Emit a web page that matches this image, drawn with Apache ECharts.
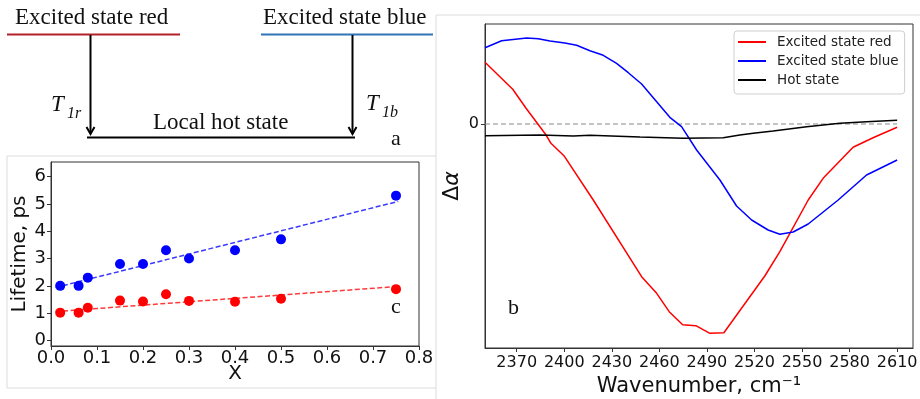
<!DOCTYPE html>
<html>
<head>
<meta charset="utf-8">
<script src="https://cdn.jsdelivr.net/npm/echarts@6/dist/echarts.min.js"></script>
<style>
  html, body { margin: 0; padding: 0; background: #fff; }
  #fig { width: 920px; height: 399px; }
</style>
</head>
<body>
<div id="fig"></div>
<script>
// ---- Panel c: lifetime versus composition X ----
const compX         = [0.02, 0.06, 0.08, 0.15, 0.2, 0.25, 0.3, 0.4, 0.5, 0.75];
const lifetimeBlue  = [2.0, 2.0, 2.3, 2.8, 2.8, 3.3, 3.0, 3.3, 3.7, 5.3];
const lifetimeRed   = [1.02, 1.02, 1.2, 1.46, 1.43, 1.69, 1.45, 1.42, 1.53, 1.88];
// linear fits (end points)
const fitX          = [0.01, 0.755];
const fitBlue       = [1.94, 5.09];
const fitRed        = [1.06, 1.98];
const lifetimeTicks = [0, 1, 2, 3, 4, 5, 6];

// ---- Panel b: difference spectra ----
const redWave  = [2350, 2367.5, 2375.9, 2383, 2388.5, 2391.6, 2399.8, 2418.3, 2448.8, 2458.3, 2466.2,
                  2474.7, 2483, 2491.9, 2500.7, 2526.5, 2536, 2553.9, 2563.3, 2582.2, 2594.8, 2610];
const redDelta = [0.617, 0.347, 0.157, 0.007, -0.11, -0.193, -0.317, -0.76, -1.527, -1.693, -1.877,
                  -2.007, -2.017, -2.093, -2.087, -1.52, -1.277, -0.76, -0.543, -0.233, -0.137, -0.033];

const blueWave  = [2350, 2360.5, 2376.3, 2383.6, 2391, 2400.4, 2407.8, 2416.2, 2424.6, 2433, 2440.4,
                   2448.8, 2458.3, 2466.6, 2474, 2483.5, 2498.2, 2508.7, 2518.2, 2528.6, 2536, 2544.4,
                   2553.9, 2572.8, 2590.7, 2610];
const blueDelta = [0.763, 0.833, 0.86, 0.853, 0.83, 0.81, 0.787, 0.733, 0.687, 0.607, 0.513,
                   0.40, 0.223, 0.067, -0.027, -0.26, -0.56, -0.82, -0.96, -1.06, -1.103, -1.08,
                   -1.0, -0.76, -0.51, -0.36];

const hotWave  = [2350, 2384.7, 2405.7, 2416.2, 2447.8, 2475.1, 2500.3, 2510.8, 2519.2, 2531.8,
                  2552.9, 2573.9, 2590.7, 2610];
const hotDelta = [-0.117, -0.11, -0.12, -0.113, -0.13, -0.143, -0.137, -0.11, -0.093, -0.07,
                  -0.027, 0.007, 0.023, 0.037];

const zeroWave  = [2350, 2610];
const zeroDelta = [0, 0];
const waveTicks = [2370, 2400, 2430, 2460, 2490, 2520, 2550, 2580, 2610];

const seriesNames = ['Excited state red', 'Excited state blue', 'Hot state'];

const pairs = (xs, ys) => xs.map((x, i) => [x, ys[i]]);

const SANS = 'DejaVu Sans';
const SERIF = '"Liberation Serif", "Times New Roman", serif';
const AX = '#333';

function axisBase() {
  return {
    axisLine: { show: true, onZero: false, lineStyle: { color: AX, width: 1 } },
    axisTick: { show: true, inside: false, length: 4, lineStyle: { color: AX, width: 1 } },
    splitLine: { show: false },
    nameLocation: 'middle',
    nameMoveOverlap: false
  };
}

// ---- Panel a: level diagram drawn as plain graphics ----
// y is the text baseline; canvas 'middle' sits about 0.3 em above it
const serifText = (text, x, baseline, size, italic) => ({
  type: 'text', silent: true,
  style: { text, x, y: baseline - 0.3 * size,
           font: (italic ? 'italic ' : '') + size + 'px ' + SERIF,
           fill: '#111', align: 'left', verticalAlign: 'middle' }
});
const seg = (x1, y1, x2, y2, color, w) => ({
  type: 'line', silent: true,
  shape: { x1, y1, x2, y2 },
  style: { stroke: color, lineWidth: w }
});
const arrowHead = (x, yTip) => ({
  type: 'polyline', silent: true,
  shape: { points: [[x - 4, yTip - 7], [x, yTip], [x + 4, yTip - 7]] },
  style: { stroke: '#000', lineWidth: 2, fill: null }
});

const graphics = [
  // frame lines between panels
  seg(436, 15, 920, 15, '#dcdcdc', 1),
  seg(436, 15, 436, 399, '#dcdcdc', 1),
  seg(7, 156, 436, 156, '#dcdcdc', 1),
  seg(7, 156, 7, 388, '#dcdcdc', 1),
  seg(7, 388, 436, 388, '#dcdcdc', 1),

  // energy levels
  seg(7, 34.5, 180, 34.5, '#b4202a', 2),
  seg(261, 34.5, 433, 34.5, '#2e75b6', 2),
  seg(87, 137.5, 355, 137.5, '#000', 2),
  serifText('Excited state red', 15, 25, 23),
  serifText('Excited state blue', 263, 25, 23),
  serifText('Local hot state', 153, 130, 23),

  // relaxation arrows
  seg(90.5, 35, 90.5, 134, '#000', 2),
  arrowHead(90.5, 134),
  seg(352.5, 35, 352.5, 134, '#000', 2),
  arrowHead(352.5, 134),

  serifText('T', 51, 112, 23, true),
  serifText('1r', 67, 119, 16, true),
  serifText('T', 366, 111, 23, true),
  serifText('1b', 382, 118, 16, true),

  // panel letters
  serifText('a', 391, 146, 22),
  serifText('b', 508, 315, 22),
  serifText('c', 391, 314, 22)
];

const option = {
  animation: false,
  backgroundColor: '#fff',
  textStyle: { fontFamily: SANS },
  grid: [
    { left: 51, top: 162, width: 368, height: 184, show: true, borderColor: AX, borderWidth: 1,
      containLabel: false, outerBoundsMode: 'none' },
    { left: 485, top: 24, width: 428, height: 324, show: true, borderColor: AX, borderWidth: 1,
      containLabel: false, outerBoundsMode: 'none' }
  ],
  xAxis: [
    Object.assign(axisBase(), {
      type: 'value', gridIndex: 0, min: 0, max: 0.8, interval: 0.1,
      axisLabel: { fontSize: 18, fontFamily: SANS, color: '#111', margin: 3,
                   formatter: v => v.toFixed(1) },
      name: 'X', nameGap: 18,
      nameTextStyle: { fontSize: 20, fontFamily: SANS, color: '#111' }
    }),
    Object.assign(axisBase(), {
      type: 'value', gridIndex: 1, min: 2350, max: 2620,
      axisLabel: { fontSize: 16, fontFamily: SANS, color: '#111', margin: 7,
                   customValues: waveTicks, formatter: v => String(v) },
      axisTick: { show: true, length: 4, lineStyle: { color: AX }, customValues: waveTicks },
      name: 'Wavenumber, cm\u207B\u00B9', nameGap: 28,
      nameTextStyle: { fontSize: 21, fontFamily: SANS, color: '#111' }
    })
  ],
  yAxis: [
    Object.assign(axisBase(), {
      type: 'value', gridIndex: 0, min: -0.2, max: 6.53,
      axisLabel: { fontSize: 18, fontFamily: SANS, color: '#111', margin: 5,
                   customValues: lifetimeTicks, formatter: v => String(v) },
      axisTick: { show: true, length: 4, lineStyle: { color: AX }, customValues: lifetimeTicks },
      name: 'Lifetime, ps', nameGap: 21,
      nameTextStyle: { fontSize: 20, fontFamily: SANS, color: '#111' }
    }),
    Object.assign(axisBase(), {
      type: 'value', gridIndex: 1, min: -2.24, max: 1.0,
      axisLabel: { fontSize: 16, fontFamily: SANS, color: '#111', margin: 6, customValues: [0],
                   formatter: v => String(v) },
      axisTick: { show: true, length: 4, lineStyle: { color: AX }, customValues: [0] },
      name: '\u0394{i|\u03B1}', nameGap: 22,
      nameTextStyle: { fontSize: 22, fontFamily: SANS, color: '#111',
                       rich: { i: { fontSize: 22, fontStyle: 'italic', fontFamily: SANS, color: '#111' } } }
    })
  ],
  legend: {
    data: seriesNames,
    orient: 'vertical',
    left: 734, top: 31,
    icon: 'rect', itemWidth: 28, itemHeight: 2, itemGap: 5,
    padding: [4, 6, 7, 4],
    backgroundColor: 'rgba(255,255,255,0.85)',
    borderColor: '#cfcfcf', borderWidth: 1, borderRadius: 3,
    textStyle: { fontSize: 13.5, fontFamily: SANS, color: '#222', lineHeight: 14, padding: [0, 0, 0, 6] },
    selectedMode: false
  },
  series: [
    // panel c
    { type: 'line', name: 'fit blue', xAxisIndex: 0, yAxisIndex: 0, data: pairs(fitX, fitBlue),
      symbol: 'none', lineStyle: { color: '#3a3aff', width: 1.5, type: [5, 2.5] }, z: 2 },
    { type: 'line', name: 'fit red', xAxisIndex: 0, yAxisIndex: 0, data: pairs(fitX, fitRed),
      symbol: 'none', lineStyle: { color: '#ff3a3a', width: 1.5, type: [5, 2.5] }, z: 2 },
    { type: 'scatter', name: 'T1b', xAxisIndex: 0, yAxisIndex: 0, data: pairs(compX, lifetimeBlue),
      symbolSize: 10, itemStyle: { color: '#0000ff', opacity: 1 }, z: 3 },
    { type: 'scatter', name: 'T1r', xAxisIndex: 0, yAxisIndex: 0, data: pairs(compX, lifetimeRed),
      symbolSize: 10, itemStyle: { color: '#ff0000', opacity: 1 }, z: 3 },

    // panel b
    { type: 'line', name: 'zero', xAxisIndex: 1, yAxisIndex: 1, data: pairs(zeroWave, zeroDelta),
      symbol: 'none', lineStyle: { color: '#8a8a8a', width: 1.2, type: [5, 3] }, z: 1 },
    { type: 'line', name: seriesNames[0], xAxisIndex: 1, yAxisIndex: 1, data: pairs(redWave, redDelta),
      symbol: 'none', showSymbol: false, color: '#ff0000', lineStyle: { color: '#ff0000', width: 1.5 } },
    { type: 'line', name: seriesNames[1], xAxisIndex: 1, yAxisIndex: 1, data: pairs(blueWave, blueDelta),
      symbol: 'none', showSymbol: false, color: '#0000ff', lineStyle: { color: '#0000ff', width: 1.5 } },
    { type: 'line', name: seriesNames[2], xAxisIndex: 1, yAxisIndex: 1, data: pairs(hotWave, hotDelta),
      symbol: 'none', showSymbol: false, color: '#000000', lineStyle: { color: '#000000', width: 1.5 } }
  ],
  graphic: { elements: graphics }
};

const chart = echarts.init(document.getElementById('fig'), null, { renderer: 'canvas' });
chart.setOption(option);
</script>
</body>
</html>
